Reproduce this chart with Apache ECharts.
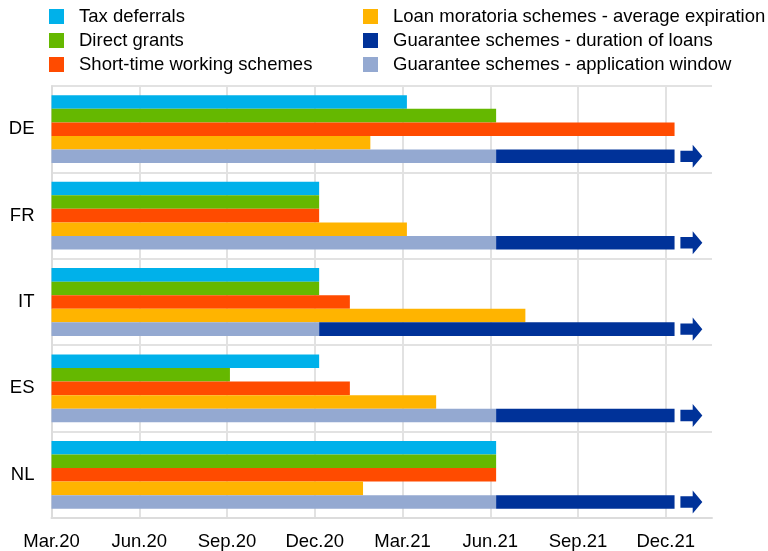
<!DOCTYPE html>
<html>
<head>
<meta charset="utf-8">
<script src="https://cdn.jsdelivr.net/npm/echarts@6/dist/echarts.min.js"></script>
<style>
html,body{margin:0;padding:0;background:#fff;}
#chart{width:768px;height:551px;}
</style>
</head>
<body>
<div id="chart"></div>
<script>
// Months since Mar.20 (0 = Mar.20)
var categories = ['DE', 'FR', 'IT', 'ES', 'NL'];
var tickLabels = ['Mar.20', 'Jun.20', 'Sep.20', 'Dec.20', 'Mar.21', 'Jun.21', 'Sep.21', 'Dec.21'];
var taxDeferrals      = [12.15, 9.15, 9.15, 9.15, 15.2];
var directGrants      = [15.2, 9.15, 9.15, 6.1, 15.2];
var shortTimeWorking  = [21.3, 9.15, 10.2, 10.2, 15.2];
var loanMoratoria     = [10.9, 12.15, 16.2, 13.15, 10.65];
var guaranteeWindow   = [15.2, 15.2, 9.15, 15.2, 15.2];
var guaranteeLoansEnd = [21.3, 21.3, 21.3, 21.3, 21.3];
var arrowStart = 21.5, arrowEnd = 22.25;
var axisMax = 22.58;

var FONT = "'Liberation Sans', Arial, sans-serif";
var FS = 18.5;
var gapPct = 0.215;

var guaranteeDuration = guaranteeLoansEnd.map(function (v, i) { return +(v - guaranteeWindow[i]).toFixed(3); });
var arrowData = categories.map(function (c, i) { return [arrowStart, arrowEnd, i]; });

var splitColors = tickLabels.map(function () { return '#e2e2e2'; });
splitColors.push('rgba(0,0,0,0)');

function barSeries(name, data, color, stack) {
  var s = {
    name: name, type: 'bar', data: data,
    barGap: '0%', barCategoryGap: (gapPct * 100) + '%',
    itemStyle: { color: color },
    emphasis: { disabled: true },
    animation: false
  };
  if (stack) s.stack = stack;
  return s;
}

var chart = echarts.init(document.getElementById('chart'), null, { renderer: 'canvas' });
chart.setOption({
  animation: false,
  textStyle: { fontFamily: FONT },
  legend: [
    {
      data: ['Tax deferrals', 'Direct grants', 'Short-time working schemes'],
      orient: 'vertical', left: 44, top: 2,
      itemWidth: 15, itemHeight: 15, itemGap: 5,
      icon: 'rect', selectedMode: false,
      textStyle: { fontSize: FS, color: '#000', fontFamily: FONT, padding: [0, 0, 0, 10] }
    },
    {
      data: ['Loan moratoria schemes - average expiration', 'Guarantee schemes - duration of loans', 'Guarantee schemes - application window'],
      orient: 'vertical', left: 358, top: 2,
      itemWidth: 15, itemHeight: 15, itemGap: 5,
      icon: 'rect', selectedMode: false,
      textStyle: { fontSize: FS, color: '#000', fontFamily: FONT, padding: [0, 0, 0, 10] }
    }
  ],
  grid: { left: 51.5, right: 56, top: 86, bottom: 33, containLabel: false },
  xAxis: {
    type: 'value', min: 0, max: axisMax, interval: 3,
    axisLine: { show: true, lineStyle: { color: '#dcdcdc', width: 2 } },
    axisTick: { show: false },
    splitLine: { show: true, lineStyle: { color: splitColors, width: 2 } },
    axisLabel: {
      fontSize: FS, color: '#000', fontFamily: FONT, margin: 14,
      showMaxLabel: false,
      formatter: function (v) {
        var idx = Math.round(v / 3);
        return (Math.abs(v - idx * 3) < 1e-6 && tickLabels[idx]) ? tickLabels[idx] : '';
      }
    }
  },
  yAxis: {
    type: 'category', data: categories, inverse: true,
    axisLine: { show: true, lineStyle: { color: '#dcdcdc', width: 2 } },
    axisTick: { show: false },
    splitLine: { show: true, lineStyle: { color: '#e2e2e2', width: 2 } },
    axisLabel: { fontSize: FS, color: '#000', fontFamily: FONT, margin: 17 }
  },
  series: [
    barSeries('Tax deferrals', taxDeferrals, '#00b1ea'),
    barSeries('Direct grants', directGrants, '#65b800'),
    barSeries('Short-time working schemes', shortTimeWorking, '#ff4b00'),
    barSeries('Loan moratoria schemes - average expiration', loanMoratoria, '#ffb400'),
    barSeries('Guarantee schemes - application window', guaranteeWindow, '#94a9d1', 'g'),
    barSeries('Guarantee schemes - duration of loans', guaranteeDuration, '#003299', 'g'),
    {
      name: 'arrow', type: 'custom', data: arrowData, silent: true,
      encode: { x: [0, 1], y: 2 },
      renderItem: function (params, api) {
        var cat = api.value(2);
        var p0 = api.coord([api.value(0), cat]);
        var p1 = api.coord([api.value(1), cat]);
        var band = api.size([0, 1])[1];
        var bw = band * (1 - gapPct) / 5;
        var cy = p0[1] + 2 * bw;
        var len = p1[0] - p0[0];
        var xm = p0[0] + len * 0.56;
        var hs = bw * 0.42, hh = bw * 0.85;
        return {
          type: 'polygon',
          shape: { points: [
            [p0[0], cy - hs], [xm, cy - hs], [xm, cy - hh], [p1[0], cy],
            [xm, cy + hh], [xm, cy + hs], [p0[0], cy + hs]
          ] },
          style: { fill: '#003299' }
        };
      },
      z: 3
    }
  ]
});
</script>
</body>
</html>
